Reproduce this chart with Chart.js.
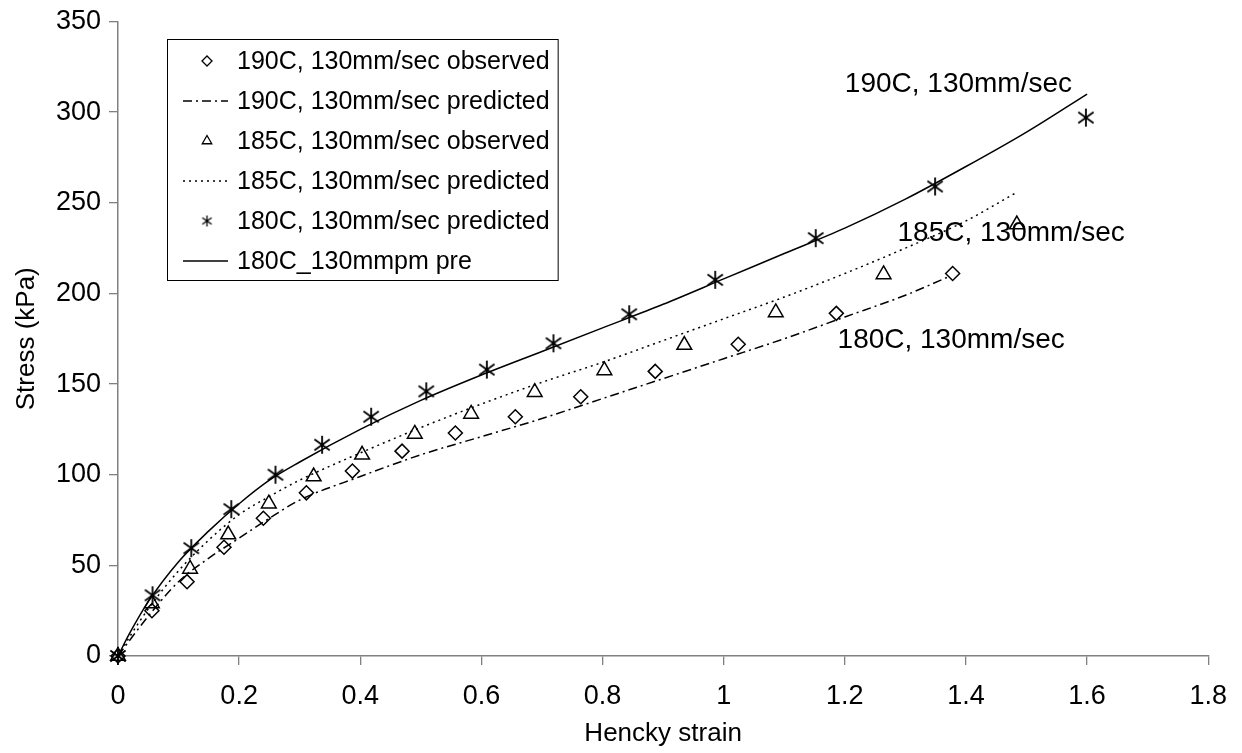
<!DOCTYPE html>
<html>
<head>
<meta charset="utf-8">
<script src="https://cdn.jsdelivr.net/npm/chart.js@4/dist/chart.umd.min.js"></script>
<style>
  html, body { margin: 0; padding: 0; background: #fff; }
</style>
</head>
<body>
<canvas id="chart" width="1242" height="753"></canvas>
<script>
// observed points
const strainObs190 = [0, 0.056, 0.114, 0.175, 0.24, 0.311, 0.387, 0.469, 0.557, 0.656, 0.764, 0.887, 1.024, 1.186, 1.378];
const stressObs190 = [0, 25, 41, 60, 76, 90, 102, 113, 123, 132, 143, 157, 172, 189, 211];

const strainObs185 = [0, 0.056, 0.119, 0.182, 0.249, 0.323, 0.403, 0.49, 0.583, 0.688, 0.803, 0.935, 1.086, 1.264, 1.484];
const stressObs185 = [0, 29, 48, 67, 84, 99, 111, 122.5, 133.5, 145.5, 157.5, 171.5, 189.5, 210.5, 238];

const strainObs180 = [0, 0.057, 0.121, 0.187, 0.26, 0.337, 0.418, 0.509, 0.609, 0.719, 0.844, 0.986, 1.152, 1.349, 1.598];
const stressObs180 = [0, 33.5, 59.5, 81, 100, 116.5, 132, 146, 158, 172.5, 188.5, 207.5, 230.5, 259, 297];

// predicted curves
const strainPred190 = [0, 0.02, 0.05, 0.1, 0.15, 0.2, 0.25, 0.3, 0.4, 0.5, 0.6, 0.7, 0.8, 0.9, 1.0, 1.1, 1.2, 1.3, 1.37];
const stressPred190 = [0, 9, 22, 41, 54, 65, 76, 86, 99, 111, 121, 131, 142, 153, 164, 175, 187, 199, 209];

const strainPred185 = [0, 0.02, 0.05, 0.1, 0.15, 0.2, 0.25, 0.3, 0.4, 0.5, 0.6, 0.7, 0.8, 0.9, 1.0, 1.1, 1.2, 1.3, 1.4, 1.48];
const stressPred185 = [0, 11, 26, 47, 64, 78, 88, 97, 112, 126, 139, 151, 162, 174, 186, 198, 211, 225, 240, 255];

const strainPred180 = [0, 0.02, 0.05, 0.1, 0.15, 0.2, 0.25, 0.3, 0.4, 0.5, 0.6, 0.7, 0.8, 0.9, 1.0, 1.1, 1.2, 1.3, 1.4, 1.5, 1.6];
const stressPred180 = [0, 13, 30, 52, 69, 84, 97, 107, 125, 141, 155, 168, 181, 194, 208, 222, 236, 252, 270, 289, 310];

const legendLabels = [
  "190C, 130mm/sec observed",
  "190C, 130mm/sec predicted",
  "185C, 130mm/sec observed",
  "185C, 130mm/sec predicted",
  "180C, 130mm/sec predicted",
  "180C_130mmpm pre"
];

const curveNotes = ["190C, 130mm/sec", "185C, 130mm/sec", "180C, 130mm/sec"];

const FONT = "'Liberation Sans', Arial, sans-serif";
Chart.defaults.font.family = FONT;
Chart.defaults.color = "#000";

function zip(xs, ys) {
  return xs.map((x, i) => ({ x: x, y: ys[i] }));
}

// six-armed asterisk marker
function starImage(size, lw) {
  const c = document.createElement("canvas");
  c.width = size;
  c.height = size;
  const g = c.getContext("2d");
  const h = size / 2, r = h - 1;
  g.strokeStyle = "#000";
  g.lineWidth = lw;
  g.beginPath();
  g.moveTo(h, h - r); g.lineTo(h, h + r);
  const dx = r * 0.85, dy = r * 0.6;
  g.moveTo(h - dx, h - dy); g.lineTo(h + dx, h + dy);
  g.moveTo(h - dx, h + dy); g.lineTo(h + dx, h - dy);
  g.stroke();
  return c;
}
const starBig = starImage(20, 1.8);
const starSmall = starImage(13, 1.3);

const markerBase = {
  showLine: false,
  borderColor: "#000",
  backgroundColor: "rgba(0,0,0,0)",
  borderWidth: 1.5,
  clip: false
};
const lineBase = {
  showLine: true,
  pointRadius: 0,
  borderColor: "#000",
  borderWidth: 1.5,
  cubicInterpolationMode: "monotone",
  fill: false
};

const datasets = [
  Object.assign({}, markerBase, { label: legendLabels[0], data: zip(strainObs190, stressObs190), pointStyle: "rectRot", pointRadius: 7, legendMark: "rectRot" }),
  Object.assign({}, lineBase, { label: legendLabels[1], data: zip(strainPred190, stressPred190), borderDash: [9, 4, 2, 4] }),
  Object.assign({}, markerBase, { label: legendLabels[2], data: zip(strainObs185, stressObs185), pointStyle: "triangle", pointRadius: 8.5, legendMark: "triangle" }),
  Object.assign({}, lineBase, { label: legendLabels[3], data: zip(strainPred185, stressPred185), borderDash: [2, 4] }),
  Object.assign({}, markerBase, { label: legendLabels[4], data: zip(strainObs180, stressObs180), pointStyle: starBig, legendMark: "star" }),
  Object.assign({}, lineBase, { label: legendLabels[5], data: zip(strainPred180, stressPred180) })
];

// boxed legend inside the plot, like the original
const boxLegend = {
  id: "boxLegend",
  afterDraw(chart, args, o) {
    const ctx = chart.ctx;
    ctx.save();
    ctx.font = o.fontSize + "px " + FONT;
    const w = Math.max(...legendLabels.map(t => ctx.measureText(t).width));
    const textX = o.left + o.textOffset;
    const right = textX + w + 8;
    ctx.strokeStyle = "#000";
    ctx.lineWidth = 1;
    ctx.strokeRect(o.left + 0.5, o.top + 0.5, right - o.left, o.height);
    chart.data.datasets.forEach((ds, i) => {
      const cy = o.top + o.firstRow + o.rowHeight * i;
      const mx = o.left + o.markX;
      ctx.strokeStyle = "#000";
      ctx.fillStyle = "#fff";
      ctx.lineWidth = 1.3;
      if (ds.showLine) {
        ctx.setLineDash(ds.borderDash || []);
        ctx.beginPath();
        ctx.moveTo(o.left + o.lineFrom, cy);
        ctx.lineTo(o.left + o.lineTo, cy);
        ctx.stroke();
        ctx.setLineDash([]);
      } else if (ds.legendMark === "star") {
        ctx.drawImage(starSmall, mx - starSmall.width / 2, cy - starSmall.height / 2);
      } else {
        Chart.helpers.drawPoint(ctx, {
          pointStyle: ds.legendMark,
          radius: ds.legendMark === "triangle" ? 5.5 : 5,
          rotation: 0,
          borderWidth: 1.2
        }, mx, cy);
      }
      ctx.fillStyle = "#000";
      ctx.textAlign = "left";
      ctx.textBaseline = "middle";
      ctx.fillText(ds.label, textX, cy + 1);
    });
    ctx.restore();
  }
};

// curve labels placed in data units
const curveLabels = {
  id: "curveLabels",
  afterDraw(chart, args, o) {
    const ctx = chart.ctx;
    const xs = chart.scales.x, ys = chart.scales.y;
    ctx.save();
    ctx.font = o.fontSize + "px " + FONT;
    ctx.fillStyle = "#000";
    ctx.textAlign = "left";
    ctx.textBaseline = "alphabetic";
    o.at.forEach((p, i) => {
      ctx.fillText(curveNotes[i], xs.getPixelForValue(p[0]), ys.getPixelForValue(p[1]));
    });
    ctx.restore();
  }
};

const axisGray = "#808080";

new Chart(document.getElementById("chart"), {
  type: "scatter",
  data: { datasets: datasets },
  plugins: [boxLegend, curveLabels],
  options: {
    responsive: false,
    animation: false,
    devicePixelRatio: 1,
    layout: { padding: { top: 18, right: 28, left: 0, bottom: 0 } },
    plugins: {
      legend: { display: false },
      tooltip: { enabled: false },
      boxLegend: {
        left: 167, top: 39, height: 241, rowHeight: 40, firstRow: 22,
        markX: 40, lineFrom: 16, lineTo: 61, textOffset: 70, fontSize: 25
      },
      curveLabels: {
        fontSize: 28,
        at: [[1.2, 311], [1.287, 229], [1.188, 170]]
      }
    },
    scales: {
      x: {
        type: "linear",
        min: 0,
        max: 1.8,
        ticks: {
          stepSize: 0.2,
          font: { size: 27 },
          padding: 15,
          callback: v => String(Math.round(v * 10) / 10)
        },
        grid: { drawOnChartArea: false, drawTicks: true, tickLength: 9, color: axisGray, lineWidth: 1.3 },
        border: { color: axisGray, width: 1.5 },
        title: { display: true, text: "Hencky strain", font: { size: 26 }, padding: { top: 0, bottom: 4 } },
        afterFit: s => { s.height = 97; }
      },
      y: {
        min: 0,
        max: 350,
        ticks: { stepSize: 50, font: { size: 27, lineHeight: 1 }, padding: 8 },
        grid: { drawOnChartArea: false, drawTicks: true, tickLength: 9, color: axisGray, lineWidth: 1.3 },
        border: { color: axisGray, width: 1.5 },
        title: { display: true, text: "Stress (kPa)", font: { size: 26 }, padding: { top: 11, bottom: 0 } },
        afterFit: s => { s.width = 118; }
      }
    }
  }
});
</script>
</body>
</html>
